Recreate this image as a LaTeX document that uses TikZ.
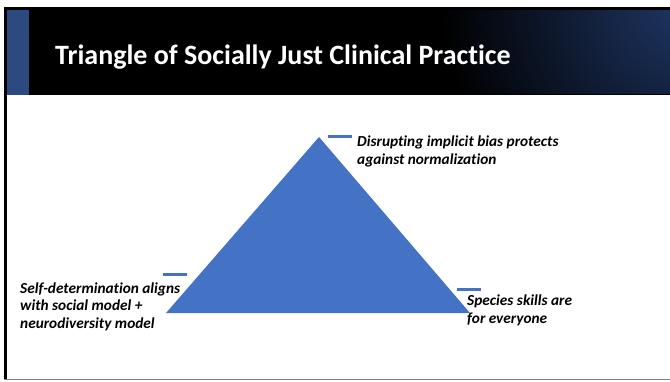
\documentclass[tikz,border=0pt]{standalone}
\usepackage{fontspec}
\setmainfont{Carlito}[Ligatures=NoCommon]
\definecolor{tblue}{HTML}{4472C4}
\definecolor{stripblue}{HTML}{2D4A80}
\definecolor{navy}{HTML}{1F3766}
\definecolor{framegray}{HTML}{808080}
\begin{document}
\begin{tikzpicture}[x=1pt,y=-1pt,
  % multi-line labels are placed by the baseline of their last line
  note/.style={font=\bfseries\itshape\fontsize{15.3}{17.6}\selectfont,
    align=left, anchor=base west, inner sep=0pt},
  tick/.style={draw=tblue, line width=3pt},
]
\useasboundingbox (0,0) rectangle (670,381);
\fill[white] (0,0) rectangle (670,381);

% title bar with its dark-blue glow towards the upper right
\fill[black] (7,7) rectangle (670,95);
\begin{scope}
  \clip (7,9) rectangle (670,93.5);
  \shade[inner color=navy, outer color=black] (690,0) circle (250);
\end{scope}
\fill[stripblue] (7,10) rectangle (29,95);

% slide frame
\fill[black] (4,7) rectangle (670,9.5);
\fill[black] (4,7) rectangle (7,379);
\draw[framegray, line width=1.5pt] (4,379.5) -- (670,379.5);

\node[font=\bfseries\fontsize{28}{32}\selectfont, text=white,
  anchor=base west, inner sep=0pt] (title) at (55,64)
  {Triangle of Socially Just Clinical Practice};

% the triangle
\coordinate (apex) at (319,137);
\coordinate (bl) at (166,313);
\coordinate (br) at (470,313);
\fill[tblue] (apex) -- (br) -- (bl) -- cycle;

% short bars beside each corner
\coordinate (t1) at (328,136.5); \coordinate (t2) at (352,136.5);
\coordinate (l1) at (163,274);   \coordinate (l2) at (187,274);
\coordinate (r1) at (457,289);   \coordinate (r2) at (481,289);
\draw[tick] (t1) -- (t2);
\draw[tick] (l1) -- (l2);
\draw[tick] (r1) -- (r2);

% corner labels
\node[note] (top) at (357,164) {Disrupting implicit bias protects\\against normalization};
\node[note] (left) at (20,328.5) {Self-determination aligns\\with social model +\\neurodiversity model};
\node[note] (right) at (467,323) {Species skills are\\for everyone};
\end{tikzpicture}
\end{document}
